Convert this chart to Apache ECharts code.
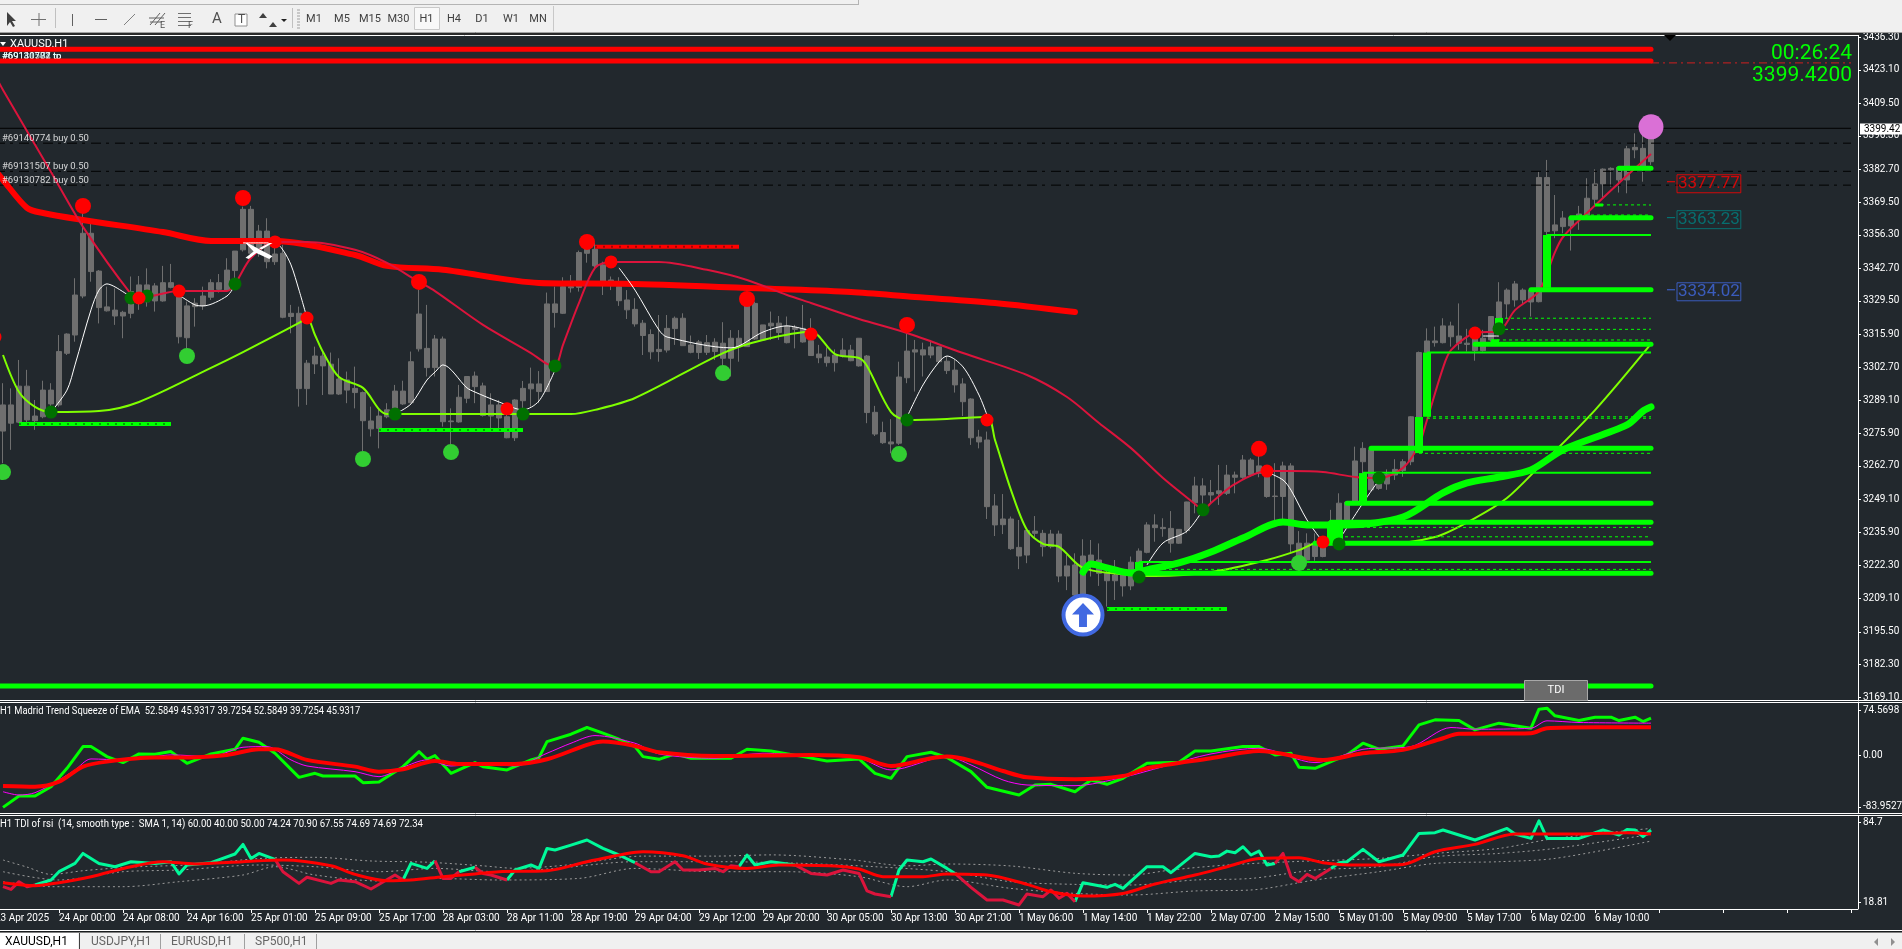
<!DOCTYPE html>
<html><head><meta charset="utf-8">
<style>html,body{margin:0;padding:0;background:#22282d;overflow:hidden}#c{width:1902px;height:949px}</style>
<script src="https://cdn.jsdelivr.net/npm/echarts@6/dist/echarts.min.js"></script>
</head><body><div id="c"></div>
<script>
// ---------- axis labels ----------
const tickLabels=["23 Apr 2025","24 Apr 00:00","24 Apr 08:00","24 Apr 16:00","25 Apr 01:00","25 Apr 09:00","25 Apr 17:00","28 Apr 03:00","28 Apr 11:00","28 Apr 19:00","29 Apr 04:00","29 Apr 12:00","29 Apr 20:00","30 Apr 05:00","30 Apr 13:00","30 Apr 21:00","1 May 06:00","1 May 14:00","1 May 22:00","2 May 07:00","2 May 15:00","5 May 01:00","5 May 09:00","5 May 17:00","6 May 02:00","6 May 10:00"];
const priceTicks=[3436.3,3423.1,3409.5,3396.3,3382.7,3369.5,3356.3,3342.7,3329.5,3315.9,3302.7,3289.1,3275.9,3262.7,3249.1,3235.9,3222.3,3209.1,3195.5,3182.3,3169.1];
const madridTicks=[74.5698,0,-83.9527];
const tdiTicks=[84.7,18.81];
// ---------- candles: [body edge, body edge, low, high], bar 0 is the off-screen leftmost bar ----------
const candles=[[3296,3290,3286,3298],
[3287.4,3276.8,3263.8,3296.2],[3287.4,3280,3269.2,3294.1],[3295,3280.4,3280,3305.6],[3295,3281.3,3279.3,3301.6],[3282.9,3281,3277.3,3289.4],[3293.4,3282.6,3282,3297.2],[3293.4,3287.8,3286,3296.2],[3309,3287.4,3286.7,3315.7],[3316.1,3308.3,3307.6,3316.4],[3331.9,3315.7,3313,3338.7],
[3356.9,3331.5,3330.6,3365],[3356.9,3341.4,3337.3,3361.6],[3341.6,3326.8,3320.4,3342],[3327.1,3325.5,3325.2,3335.3],[3325.8,3323.4,3319.8,3334.6],[3324.9,3323.4,3314.4,3325.5],[3333.3,3324.5,3322.5,3339.4],[3336,3328.6,3325.9,3339.6],[3336,3329.2,3327.2,3342.7],[3335.6,3329.5,3325.2,3336.7],
[3336.9,3329.5,3329.2,3343.7],[3336.9,3335,3334.6,3344.5],[3331.9,3315,3312.3,3334],[3327.5,3314.6,3310.3,3329.2],[3328.6,3327.2,3319.1,3330.6],[3331.5,3327.5,3325.9,3335.3],[3336.9,3331,3329.9,3338.3],[3336.9,3334.2,3332.9,3340.4],[3342,3333.9,3333.9,3346.8],[3349.7,3341.8,3338.7,3349.7],
[3366.6,3350.2,3349.5,3367.7],[3366.6,3348.8,3347.7,3368],[3357.8,3350.8,3347.4,3360.3],[3357.8,3345.4,3342.7,3363],[3348.5,3345.4,3344.1,3355.5],[3348.8,3322.9,3322.5,3352.2],[3324.5,3323.2,3316.4,3327.9],[3324.5,3294,3286.7,3327.2],[3304.3,3294,3287.4,3305.6],[3307.2,3304,3299.9,3311],
[3307.2,3303.2,3291.4,3309],[3303.9,3291.8,3291.8,3308.6],[3297.9,3291.8,3291.4,3306.3],[3297.5,3293.4,3288.1,3300.9],[3294.1,3292.4,3286,3302.9],[3292.4,3281,3268.7,3292.8],[3280.9,3277.7,3274.6,3286.7],[3282.9,3277.9,3269.8,3285.4],[3285.4,3282.6,3282,3288.1],[3293,3285.4,3282.6,3295.5],
[3293,3287.8,3287.4,3297.2],[3304.9,3288.3,3288.1,3309],[3324.2,3310.1,3309,3334],[3310.3,3302.5,3298.9,3327.9],[3314.1,3302.5,3298.9,3315.7],[3314.1,3280.6,3278.6,3315.1],[3280.9,3280.6,3271.2,3286],[3290.5,3280.5,3280.2,3295.5],[3298.9,3290.1,3288.1,3299.1],[3299.1,3294.8,3288.1,3300.9],
[3295.1,3283.1,3282.7,3296.4],[3287.4,3282.9,3277.9,3292.1],[3287.4,3282.1,3277.2,3289.4],[3282.6,3274.1,3273.9,3286.7],[3289.4,3274.1,3272.8,3289.7],[3294.1,3289.1,3285.4,3297.1],[3295.9,3293.9,3286.7,3302.5],[3295.9,3292.8,3288.1,3301.1],[3328.3,3292.8,3292.8,3332.9],[3328.3,3324.8,3318.7,3335.3],
[3335.3,3324.5,3324.2,3339.1],[3335.3,3334.8,3332.9,3340],[3349.1,3335,3333.3,3349.9],[3350.4,3348.8,3345,3355.6],[3350.4,3343.7,3342,3352.9],[3344.1,3337.3,3331.9,3345.4],[3338,3337.6,3333.9,3339.4],[3335.3,3329.6,3327.5,3339.1],[3329.9,3325.9,3322.2,3333.9],[3326.1,3320.2,3319.1,3330.6],
[3320.5,3315.5,3307.6,3321.8],[3315.9,3308.9,3305.9,3318],[3309.9,3309,3304.9,3323.8],[3318.4,3309.6,3308.6,3323.8],[3322.5,3318.3,3311.7,3323.2],[3322.5,3311.4,3311.4,3324.5],[3311.7,3308.7,3308.3,3315.5],[3312.9,3308.6,3306,3313.7],[3312.6,3308.7,3307.6,3315.7],[3312.8,3309,3305.6,3314.4],
[3312.4,3306.3,3300.9,3320.9],[3314.4,3306.3,3298.9,3317.7],[3314.4,3311,3304.9,3317.7],[3327.9,3311,3311,3331.2],[3328.5,3314.1,3313.7,3329.2],[3319.8,3313.7,3313.4,3319.8],[3320.5,3319.4,3313.7,3325.2],[3320.5,3316.7,3313.7,3323.4],[3319.4,3312.6,3312.3,3323.2],[3318.8,3318,3310.3,3319.8],
[3318.4,3312.9,3312.6,3327.9],[3313.4,3307.4,3307.4,3322.5],[3308,3306.5,3304.3,3311.7],[3306.8,3304.5,3302.9,3310.7],[3307.6,3304.5,3300.9,3309.9],[3309.6,3307,3306.6,3314.4],[3309.6,3305.3,3305.1,3311.7],[3314.4,3303.2,3302.9,3314.4],[3307.2,3284.3,3280,3307.6],[3284.4,3275.6,3274.8,3287],
[3276.2,3272.1,3271.6,3280.6],[3272.4,3271.6,3267.8,3281.6],[3298.7,3271.9,3271.2,3304.9],[3309.2,3298.4,3296.2,3316.1],[3309.7,3308.8,3292.8,3313.7],[3309.7,3307.6,3298.9,3312.6],[3310.9,3307.6,3306.3,3313.7],[3310.9,3304.9,3304.5,3311],[3305.1,3301.3,3299.9,3307],[3301.5,3295.5,3292.4,3305.6],
[3295.9,3288.7,3282.9,3298.2],[3289.8,3274.1,3271.2,3290.1],[3274.4,3272.4,3269.8,3277.3],[3273.2,3246.2,3241.2,3276.6],[3246.5,3238.8,3234.3,3251.3],[3241.2,3238.9,3235.1,3251.3],[3241.2,3229.2,3228.7,3242.2],[3229.7,3226.2,3220.9,3240.8],[3236.5,3226.6,3223.3,3237.4],[3236.3,3235.4,3233.4,3242.4],
[3235.4,3230,3226,3236.8],[3235.1,3230,3229.3,3236.8],[3235.1,3218.1,3215.6,3236.5],[3222.2,3218.1,3212.4,3226.6],[3222.6,3210.4,3209.8,3227.3],[3226.2,3210.4,3209.8,3233],[3226.6,3223.9,3217.9,3232.7],[3224.6,3219.2,3214.1,3231.3],[3219.2,3216.2,3205.7,3220.6],[3218.5,3216.2,3208.4,3224.6],
[3218.5,3214.1,3209.8,3220.6],[3223.7,3214.1,3212.4,3226],[3228.2,3223.2,3222.6,3229.3],[3238.8,3227.7,3227.3,3239.9],[3238.8,3237.7,3232,3243.1],[3237.8,3237.3,3234,3241.5],[3237.4,3231.4,3227.6,3244.4],[3237,3231.4,3231.1,3237],[3248.1,3236.5,3235.4,3248.2],[3254.6,3247.8,3243.5,3258.3],
[3254.6,3250.9,3246.2,3257.7],[3251.9,3250.9,3247.6,3257],[3252.6,3251.5,3246.9,3263.1],[3259,3251.6,3250.9,3263.1],[3259,3258.1,3251.6,3260.4],[3265.1,3258.1,3257.5,3267.1],[3265.1,3259,3258.3,3265.8],[3262.7,3259.7,3258.1,3267.8],[3259.4,3250.3,3249.8,3262.4],[3250.5,3250.3,3239.5,3263.8],
[3262.7,3250.3,3240.8,3264.4],[3262.7,3231.1,3227.3,3263.8],[3231.4,3224.6,3221,3236.3],[3231.4,3224.6,3224.3,3235.4],[3231.4,3226,3224.3,3235.4],[3232,3226,3225.7,3234],[3240.1,3232,3231.3,3244.9],[3247.6,3234,3233.4,3251.6],[3248,3240.8,3239.5,3248.2],[3264.7,3248.2,3247.8,3270.5],
[3269.8,3264.4,3258,3272.3],[3269.2,3253,3252.7,3270.5],[3255.6,3253.6,3253,3258.3],[3259.3,3255.4,3253,3261.3],[3261.3,3259,3257,3265.4],[3264.4,3260.8,3258.3,3265.4],[3282.6,3264.4,3263,3282.9],[3308.6,3282.4,3282,3309],[3313.3,3308.6,3308.3,3318.4],[3313.3,3312.6,3311,3319.1],
[3319.4,3312.6,3312.3,3322.5],[3319.4,3315,3311,3321.1],[3315.3,3312.4,3309.7,3328.5],[3312.4,3311.9,3309,3318.2],[3315,3309.4,3305.3,3317.8],[3314.4,3309.4,3309,3317.8],[3323.2,3313.7,3313,3323.4],[3329.1,3317.8,3317.1,3337.1],[3333.9,3328.3,3322.5,3334.6],[3336.4,3329.9,3327.2,3337.6],
[3333.9,3329.9,3328.3,3334.6],[3333.9,3329.1,3323.2,3333.9],[3379.5,3329.2,3328.9,3381.9],[3379.5,3357.6,3356.2,3386.6],[3360.3,3357.9,3354.9,3372.4],[3363.1,3359.6,3356.9,3365.9],[3363.2,3359.9,3349.9,3364],[3364.7,3363,3358.3,3368],[3371.1,3364.3,3363.4,3379.2],[3376.9,3370.7,3368.4,3382.8],
[3382.9,3376.9,3371.1,3383.2],[3383.2,3382.6,3375.8,3383.6],[3383.6,3378.5,3373.4,3383.9],[3391.1,3378.5,3373.1,3392.3],[3391.7,3390.7,3387.3,3397.4],[3391.3,3383.2,3377.8,3398.1],[3398.1,3385.9,3384.6,3399.4]];
// ---------- moving lines: [bar, price] ----------
const thickRedMA=[[0,3382.5],[1,3378.5],[4,3367.2],[6,3365.1],[11,3362.3],[21,3357.4],[27,3353.8],[35,3353.8],[45,3348.1],[49,3343.7],[56,3342.1],[68,3336.8],[80,3336.4],[97,3334.4],[107,3333.1],[115,3331.1],[125,3328.7],[135,3325]];
const crimsonLine=[[0,3421],[1,3414.95],[7,3381.7],[11,3359.5],[17,3332.3],[18,3330.7],[23,3333.5],[29,3333.5],[30,3336.4],[32,3346.9],[35,3353.4],[39,3353.4],[45,3350.2],[49,3344.9],[53,3337.2],[55,3333.5],[61,3319.8],[67,3308.4],[69,3304],[70,3303.2],[71,3311.7],[73,3328.7],[75,3342.9],[77,3345.3],[83,3345.3],[89,3342.1],[94,3338],[99,3331.9],[102,3328.7],[108,3322.2],[114,3316.5],[121,3308.4],[129,3299.5],[134,3290.6],[138,3280.1],[142,3269.9],[146,3257.8],[150,3247.3],[151,3244.9],[152,3247.7],[155,3255.4],[159,3260.6],[162,3260.6],[166,3260.2],[170,3258.2],[173,3257.8],[176,3261.9],[178,3271.2],[179,3281.3],[181,3302.4],[182,3309.6],[185,3316.5],[188,3317.3],[190,3325.8],[193,3333.5],[195,3349.3],[196,3355.4],[199,3365.1],[203,3377.3],[207,3389]];
const chartreuseLine=[[1,3307.6],[3,3292.6],[5,3286.6],[7,3284.5],[13,3284.9],[18,3288.6],[27,3302.4],[31,3308.8],[38,3320.6],[39,3322.6],[40,3315.7],[41,3308.8],[43,3298.7],[46,3294.3],[49,3283.7],[55,3283.7],[72,3283.7],[75,3285.4],[80,3290.2],[91,3308.4],[96,3313.7],[102,3317],[105,3308],[108,3306.4],[109,3303.2],[112,3284.5],[114,3281.3],[119,3281.7],[124,3282.5],[125,3273.2],[127,3252.9],[129,3236.7],[131,3231.1],[133,3229.9],[136,3221.4],[142,3218.5],[145,3218.1],[152,3219.7],[159,3224.6],[163,3228.6],[166,3232.3],[173,3231.1],[180,3233.9],[185,3241.6],[189,3249.7],[193,3262.3],[200,3285.3],[207,3312.1]];
const thickGreenMA=[[136,3219.7],[137,3223],[139,3221.4],[142,3219.3],[144,3220.6],[148,3223.4],[152,3227.8],[156,3233.5],[161,3240],[164,3238.8],[169,3238.8],[176,3242],[181,3251.8],[184,3255.8],[188,3258.2],[192,3261.1],[196,3269.2],[204,3279.3],[206,3284.9],[207,3286.6]];
const whiteSegments=[
[[7,3284.5],[9,3293.4],[10,3303.6],[12,3325.9],[13,3333.9],[14,3336.4],[15,3335.2],[17,3331.1]],
[[23,3331.9],[25,3327.9],[26,3327.5],[29,3331.5],[30,3336]],
[[31,3353],[35,3353],[36,3350.1],[37,3344.1],[38,3333.9],[39,3322.6]],
[[50,3283.7],[52,3287.8],[54,3297.5],[55,3300.7],[56,3303.6],[59,3294.3],[60,3292.6],[63,3288.6],[66,3285.4],[68,3289],[70,3301.5]],
[[78,3342.9],[80,3333.9],[83,3317.7],[84,3314.9],[92,3310.5],[96,3316.9],[99,3319.4],[102,3317.3]],
[[114,3282.5],[116,3295.5],[118,3304.8],[119,3307.2],[121,3302.8],[123,3291.4],[124,3283.3]],
[[144,3222.6],[146,3231.5],[149,3236.3],[151,3244.9]],
[[159,3260.2],[161,3257],[162,3252.9],[164,3240.8],[166,3231.9]],
[[168,3232.7],[171,3247.7],[173,3257]],
[[186,3315.3],[188,3315.3]]];
// ---------- markers: [bar, price] ----------
const redDotsBig=[[11,3368],[31,3371.2],[53,3337.2],[74,3353.4],[94,3330.3],[114,3319.8],[158,3269.6]];
const redDotsSmall=[[0,3314.9],[18,3330.7],[23,3333.5],[35,3353.4],[39,3322.6],[64,3285.8],[77,3345.3],[102,3316.1],[124,3281.3],[159,3260.6],[166,3231.9],[185,3316.5]];
const darkGreenDots=[[7,3284.5],[17,3330.7],[19,3331.5],[30,3336.4],[50,3283.7],[66,3283.7],[70,3303.2],[114,3281.3],[143,3217.7],[151,3244.9],[168,3231.1],[173,3257.8],[188,3318.2]];
const limeDots=[[1,3260.2],[24,3307.2],[46,3265.5],[57,3268.3],[91,3300.3],[113,3267.5],[163,3223.4]];
const orchidDot=[[207,3400]];
const arrowMark=[[136,3202.3]];
const scissorsMark=[[33,3349.7]];
// ---------- horizontal levels: [first bar, last bar, price] ----------
const redBands=[[0,207,3431.4],[0,207,3426.7]];
const redTail=[[207,232,3425.9]];
const thickLevels=[[0,207,3173.6],[192,207,3334.02],[197,207,3363.23],[203,207,3383.2],[185,207,3312],[172,207,3269.8],[169,207,3247.6],[167,207,3239.9],[165,207,3231.4],[143,207,3219.2]];
const solidLevels=[[194,207,3356.2],[179,207,3308.6],[171,207,3259.9],[143,207,3223.8]];
const dashedLevels=[[200,207,3368.4],[198,207,3364.3],[188,207,3322.5],[188,207,3318],[187,207,3313.7],[179,207,3282.6],[179,207,3282],[178,207,3267.8],[170,207,3237.8],[168,207,3234],[143,207,3220.8]];
const shortLevels=[[200,201,3368.4],[187,188,3313.4]];
const beadedGreen=[[3,22,3279.7],[48,66,3277.2],[139,154,3204.8]];
const beadedRed=[[75,93,3351.4]];
const orderLevels=[3393.4,3382,3376.4];
const currentPrice=3399.42;
// ---------- vertical green steps: [bar, upper price, lower price] ----------
const greenSteps=[[179,3308.6,3282.6],[178,3282.5,3267.9],[194,3356.2,3334.8],[188,3322.6,3317.7],[171,3259.8,3248.1],[167,3240,3231.5],[168,3240,3231.5],[143,3223.8,3218.5]];
// ---------- text labels ----------
const orderTexts=[["#69140774 buy 0.50",3395.4],["#69131507 buy 0.50",3384.0],["#69130782 buy 0.50",3378.3]];
const tpTexts=[["#69130782 tp",3428.3],["#69131507 tp",3428.3],["#69140774 tp",3428.3]];
const priceTags=[[3377.77,'#ff0000'],[3363.23,'#008080'],[3334.02,'#4169e1']];
// ---------- Madrid Trend Squeeze pane ----------
const madridGreen=[[1,-84.6],[3,-66.1],[5,-66.1],[7,-50.8],[9,-20.7],[11,14.8],[12,14.8],[14,-1.6],[16,-11.4],[18,2.8],[20,2.2],[22,6.6],[24,-12.5],[27,2.8],[30,10.4],[31,28.5],[33,21.9],[35,3.9],[38,-35.5],[40,-28.9],[41,-33.3],[45,-33.3],[46,-44.2],[48,-43.1],[51,-18],[53,6.6],[54,-5.9],[55,0],[57,-28.9],[60,-11.4],[61,-18],[64,-23.4],[67,-7],[68,-3.2],[69,23],[72,35],[74,46],[76,36.7],[78,26.8],[80,14.8],[81,-1.6],[83,-6],[85,2.8],[87,-4.3],[92,-4.3],[94,10.4],[97,7.7],[101,-1.6],[104,-8.7],[108,-5.4],[110,-28.9],[112,-37.1],[114,-1.6],[117,5.5],[119,-3],[122,-26.2],[124,-51.8],[128,-64.4],[130,-48],[132,-46.9],[135,-59],[137,-39.8],[139,-46.9],[141,-37.1],[144,-12.5],[148,-10.9],[150,7.7],[152,7.7],[156,14.8],[158,14.8],[160,1.2],[162,3.9],[163,-19.1],[165,-20.7],[169,1.2],[171,20.3],[173,10.4],[176,15.9],[178,50.3],[180,58.5],[183,57.4],[185,42.1],[188,53.1],[192,44.9],[193,76],[194,77.6],[195,65.1],[198,57.4],[200,62.9],[202,62.9],[203,57.4],[205,62.9],[206,55.8],[207,61.3]];
const madridMagenta=[[1,-59],[3,-64.4],[5,-60.6],[8,-39.8],[10,-23.4],[12,-5.4],[16,-7],[20,-1.6],[22,1.2],[27,-1.6],[31,13.7],[34,14.8],[37,-7],[39,-16.9],[45,-26.2],[48,-34.4],[51,-19.1],[54,-7],[57,-16.9],[61,-12.5],[65,-16.9],[69,3.9],[72,20.3],[75,32.8],[80,20.3],[83,2.8],[90,-4.3],[96,3.9],[102,0],[108,-4.3],[112,-23.4],[119,-1.6],[122,-15.2],[126,-39.8],[129,-48],[135,-49.1],[141,-35.5],[146,-18],[152,2.8],[158,12.1],[165,-11.4],[171,10.4],[177,14.8],[182,46],[185,43.2],[192,44.9],[194,56.9],[198,54.2],[207,53.1]];
const madridRed=[[1,-49.7],[5,-50.8],[8,-42.6],[11,-18],[14,-9.8],[20,-3.2],[23,-3.2],[29,1.2],[33,10.4],[35,10.4],[39,-7],[45,-18],[48,-26.2],[51,-22.3],[55,-8.7],[58,-13.6],[65,-13.6],[69,-6],[74,17.5],[76,23],[80,15.9],[83,5.5],[90,-0.5],[102,1.2],[108,-2.7],[112,-16.9],[117,-4.3],[119,-1.6],[122,-8.1],[126,-25.1],[129,-35.5],[135,-38.7],[141,-33.3],[144,-20.7],[152,-4.3],[158,7.7],[166,-7],[171,3.9],[176,9.4],[181,28.5],[183,35.6],[192,36.7],[194,44.9],[200,46.5],[207,46.5]];
// ---------- TDI pane ----------
const tdiGreenSegments=[
[[5,33.3],[7,37.4],[8,44.2],[10,51],[11,59.2],[13,51],[15,48.3],[17,52.4],[20,51],[22,52.4],[23,42.3],[24,49.7],[27,51.6],[30,58.7],[31,66.6],[32,55],[33,59.2],[35,54.3]],
[[51,37.4],[52,51],[54,46.9],[55,53.2]],
[[58,44.2],[60,47.8]],
[[64,37.4],[65,45.6],[67,49.7],[68,46.9],[69,63.3],[70,62],[72,66],[74,70.2],[76,63.3],[78,57.9],[80,51.6]],
[[93,48.3],[94,57.9],[95,49.7],[97,52.4],[100,49.7]],
[[112,23.7],[113,45.6],[114,53.8],[116,52.4],[117,54.6],[119,46.9],[120,42.8]],
[[135,19.6],[136,35.2],[139,31.4],[140,33.8],[141,30.5],[144,48.3],[146,48.3],[147,43.4],[150,59.2],[152,56.5],[153,57],[154,61.1],[155,59.8],[156,64.7],[157,57.9],[158,61.1],[159,49.7],[160,51]],
[[167,46.9],[168,51.6],[169,52.4],[171,62.5],[173,52.4],[176,57.9],[178,75.6],[180,76.2],[181,78.4],[185,70.2],[189,79.7],[190,75.1],[192,71.5],[193,86],[194,71.5],[198,71.5],[201,78.4],[203,74.3],[204,78.9],[205,78.4],[206,72.9],[207,78.4]]];
const tdiCrimsonSegments=[
[[1,31.9],[2,29.7],[3,36],[4,31.9],[5,33.3]],
[[35,54.3],[36,44.2],[38,34.6],[39,39.6],[42,34.6],[43,37.4],[45,36],[47,30],[50,41.5],[51,37.4]],
[[55,53.2],[56,38.7],[57,38.7],[58,44.2]],
[[60,47.8],[61,42.8],[62,41.5],[64,37.4]],
[[80,51.6],[82,44.2],[83,44.2],[85,52.4],[86,45.6],[88,45.6],[90,46.9],[91,44.2],[92,49.1],[93,48.3]],
[[100,49.7],[102,42.8],[104,41.5],[106,45.6],[108,42.8],[109,28.4],[110,25.9],[112,23.7]],
[[120,42.8],[122,31.4],[124,21],[126,21],[128,16.9],[129,25.9],[131,23.7],[132,29.2],[133,22.4],[134,26.4],[135,19.6]],
[[160,51],[161,59.2],[162,40.1],[163,36],[164,42],[165,38.7],[167,46.9]]];
const tdiSignal=[[1,35.2],[5,32.7],[8,35.2],[12,40.1],[17,48.3],[21,52.4],[25,50.5],[31,52.4],[36,53.8],[42,49.1],[45,42],[49,36.8],[52,37.4],[56,40.1],[60,42.3],[63,44.2],[69,45],[74,52.4],[79,59.2],[81,60.6],[86,57.3],[89,50.5],[94,46.9],[98,49.7],[105,48.9],[108,46.4],[111,40.1],[116,40.1],[119,42.3],[124,41.5],[129,33.8],[132,27.8],[136,24.3],[141,26.4],[145,34.1],[150,41.5],[154,48.3],[158,55.1],[163,55.7],[166,51.6],[170,49.7],[176,50.2],[180,60.6],[185,66.6],[190,75.1],[198,75.1],[204,76.2],[207,75.1]];
const tdiUpper=[[1,53.8],[4,48],[7,42],[11,45],[17,48],[25,50],[33,55],[40,56],[47,53],[54,52],[61,49],[65,47],[72,50],[81,57],[90,57],[97,58],[107,54],[114,49],[119,50.5],[127,48.9],[135,42.9],[142,41.5],[147,45.6],[154,49.7],[162,52.4],[173,55.1],[180,59.2],[188,63.3],[195,71.5],[207,79.7]];
const tdiMiddle=[[1,44.2],[8,37.4],[16,44.2],[23,45.6],[33,49.7],[40,48.3],[48,44.2],[55,46.9],[63,44.2],[70,46.9],[80,52.4],[91,52.4],[101,51],[110,48.3],[119,44.2],[127,36],[135,33.8],[142,33.3],[150,37.4],[157,38.7],[165,45.6],[173,48.3],[180,56.5],[188,59.2],[195,63.3],[207,74.8]];
const tdiLower=[[1,36],[7,31.9],[16,31.9],[23,36],[31,41.5],[35,48.3],[40,41.5],[48,36.6],[55,38.7],[63,37.4],[73,38.7],[80,46.9],[90,44.2],[99,44.2],[108,40.1],[114,31.9],[119,37.4],[127,30.5],[135,26.4],[142,25.1],[150,28.4],[157,29.2],[165,37.4],[173,44.2],[180,51],[188,52.4],[195,55.1],[207,69.3]];

const FONT='Roboto,sans-serif';
const BG='#22282d';
const barCount=233;
const categories=Array.from({length:barCount},(_,i)=>String(i));

function line(data,color,width,opt){opt=opt||{};
 return {type:'line',data:data,xAxisIndex:opt.pane||0,yAxisIndex:opt.pane||0,showSymbol:false,symbol:'none',silent:true,animation:false,z:opt.z||3,
  smooth:opt.smooth||false,
  lineStyle:{color:color,width:width,type:opt.type||'solid',cap:opt.cap||'butt',join:'round',opacity:1},emphasis:{disabled:true}};}
function level(rows,color,width,opt){return rows.map(r=>line([[r[0],r[2]],[r[1],r[2]]],color,width,opt));}
function dots(data,color,size,z,extra){return Object.assign({type:'scatter',data:data,xAxisIndex:0,yAxisIndex:0,symbol:'circle',symbolSize:size,silent:true,animation:false,z:z,itemStyle:{color:color,opacity:1}},extra||{});}
function textMarks(rows,z,color){return {type:'scatter',xAxisIndex:0,yAxisIndex:0,symbolSize:0,silent:true,animation:false,z:z,data:rows.map(r=>({value:[1,r[1]],name:r[0]})),
  label:{show:true,position:'right',distance:-1,formatter:p=>p.name,color:color,fontFamily:FONT,fontSize:9.5}};}

const series=[
 {type:'candlestick',data:candles,xAxisIndex:0,yAxisIndex:0,barWidth:5,silent:true,animation:false,z:2,
  itemStyle:{color:'#6f6f6f',color0:'#6f6f6f',borderColor:'#6f6f6f',borderColor0:'#6f6f6f',borderWidth:1}},
 textMarks(tpTexts,2,'#e8ffff'),
 ...level(redBands,'#ff0000',5,{z:4,cap:'round'}),
 ...level(redTail,'#d02020',1,{type:[8,4,2,4]}),
 line([[0,currentPrice],[232,currentPrice]],'#000000',1),
 ...orderLevels.map(p=>line([[0,p],[232,p]],'#000000',1,{type:[10,5,3,6]})),
 textMarks(orderTexts,5,'#ffffff'),
 line(thickRedMA,'#ff0000',6,{z:4,cap:'round',smooth:.3}),
 line(crimsonLine,'#dc143c',2,{z:5,smooth:.3}),
 line(chartreuseLine,'#7fff00',2,{z:5,smooth:.3}),
 ...whiteSegments.map(s=>line(s,'#ffffff',1,{z:5,smooth:.3})),
 ...level(thickLevels,'#00ff00',5,{z:6,cap:'round'}),
 ...level(solidLevels,'#00ff00',2,{z:6}),
 ...level(dashedLevels,'#00ff00',1,{z:6,type:[3,3]}),
 ...level(shortLevels,'#00ff00',3,{z:6}),
 ...level(beadedGreen,'#00ff00',4,{z:6}),
 ...level(beadedGreen,'#00a000',2,{z:6,type:[2,6]}),
 ...level(beadedRed,'#ff0000',4,{z:6}),
 ...level(beadedRed,'#a00000',2,{z:6,type:[2,6]}),
 ...greenSteps.map(s=>line([[s[0],s[1]],[s[0],s[2]]],'#00ff00',8,{z:6})),
 line(thickGreenMA,'#00ff00',7,{z:6,cap:'round',smooth:.3}),
 dots(darkGreenDots,'#007000',13,7),
 dots(limeDots,'#32cd32',16,7),
 dots(redDotsSmall,'#ff0000',13,8),
 dots(redDotsBig,'#ff0000',16,8),
 dots(orchidDot,'#da70d6',25,8),
 dots(arrowMark,'#ffffff',39,8,{itemStyle:{color:'#ffffff',borderColor:'#4169e1',borderWidth:4,opacity:1}}),
 dots(arrowMark,'#4169e1',[22,24],9,{symbol:'path://M50 0 L100 48 L68 48 L68 100 L32 100 L32 48 L0 48 Z',symbolKeepAspect:false}),
 dots(scissorsMark,'#ffffff',[27,16],9,{symbol:'path://M0 0 L8 0 L100 82 L88 100 L40 62 L12 100 L0 92 L30 52 Z M100 0 L60 40 L50 32 L88 0 Z',symbolKeepAspect:false}),
 {type:'scatter',xAxisIndex:0,yAxisIndex:0,symbolSize:0,silent:true,animation:false,z:9,clip:false,
  data:priceTags.map(r=>({value:[210,r[0]],label:{color:r[1],borderColor:r[1],borderWidth:1}})),
  label:{show:true,position:'right',distance:2,offset:[0,2],formatter:p=>p.value[1].toFixed(2),fontFamily:'Roboto',fontSize:17,padding:[1,1,0,1]}},
 ...priceTags.map(r=>line([[209,r[0]],[210,r[0]]],r[1],1)),
 line(madridGreen,'#00ff00',3,{pane:1,z:3}),
 line(madridMagenta,'#ff00ff',1,{pane:1,z:4,smooth:.3}),
 line(madridRed,'#ff0000',4,{pane:1,z:5,smooth:.3}),
 line(tdiUpper,'#9a9a9a',1,{pane:2,z:3,type:[2,3],smooth:.3}),
 line(tdiMiddle,'#9a9a9a',1,{pane:2,z:3,type:[2,3],smooth:.3}),
 line(tdiLower,'#9a9a9a',1,{pane:2,z:3,type:[2,3],smooth:.3}),
 ...tdiGreenSegments.map(s=>line(s,'#00fa9a',3,{pane:2,z:4})),
 ...tdiCrimsonSegments.map(s=>line(s,'#dc143c',3,{pane:2,z:4})),
 line(tdiSignal,'#ff0000',3,{pane:2,z:5,smooth:.3})
];

function yAxis(g,min,max,ticks,fmt){return {type:'value',gridIndex:g,position:'right',offset:3,min:min,max:max,scale:true,splitLine:{show:false},
  axisLine:{show:true,onZero:false,lineStyle:{color:'#ffffff',width:1}},
  axisTick:{show:true,length:3,lineStyle:{color:'#ffffff'},customValues:ticks},
  axisLabel:{customValues:ticks,formatter:fmt,color:'#ffffff',fontFamily:FONT,fontSize:10,margin:5,showMinLabel:true,showMaxLabel:true}};}
function xAxis(g,show){return {type:'category',gridIndex:g,data:categories,boundaryGap:true,
  axisLine:{show:show,onZero:false,lineStyle:{color:'#ffffff'}},
  axisTick:{show:show,alignWithLabel:true,length:4,interval:i=>i%8===0,lineStyle:{color:'#ffffff'}},
  axisLabel:{show:show,interval:i=>i%8===0,formatter:v=>tickLabels[Number(v)/8]||'',align:'left',color:'#ffffff',fontFamily:FONT,fontSize:10,margin:4,hideOverlap:false,showMinLabel:true}};}

// ---------- window chrome ----------
const g=[];
function R(x,y,w,h,fill,stroke,z){g.push({type:'rect',silent:true,z:z||20,shape:{x,y,width:w,height:h},style:{fill:fill,stroke:stroke||null,lineWidth:1}});}
function L(x1,y1,x2,y2,c,w,z){g.push({type:'line',silent:true,z:z||20,shape:{x1,y1,x2,y2},style:{stroke:c,lineWidth:w||1}});}
function T(x,y,s,c,size,font,al,z,sx){g.push({type:'text',silent:true,z:z||21,x:x,y:y,scaleX:sx||1,style:{text:s,fill:c,fontSize:size,fontFamily:font||FONT,align:al||'left',verticalAlign:'middle'}});}
function P(pts,fill,z){g.push({type:'polygon',silent:true,z:z||21,shape:{points:pts},style:{fill:fill}});}
R(0,0,1902,32,'#f0f0f0');
R(0,32,1860,3,'#2a2a2a');
L(0,32.5,1902,32.5,'#a0a0a0',1);
L(0,4.5,858,4.5,'#b4b4b4',1);L(858.5,0,858.5,5,'#b4b4b4',1);
L(0,35.5,1858,35.5,'#ffffff',1);
L(0,700.5,1902,700.5,'#ffffff',1);L(0,702.5,1902,702.5,'#ffffff',1);
L(0,813.5,1902,813.5,'#ffffff',1);L(0,815.5,1902,815.5,'#ffffff',1);
L(0,909.5,1858,909.5,'#ffffff',1);
L(0,930.5,1902,930.5,'#ffffff',1);
R(0,932,1902,17,'#f0f0f0');L(0,932,1902,932,'#101010',1);
// toolbar icons
P([[7,12],[7,26],[10,22],[13,27],[15,26],[12,21],[16,21]],'#404040');
L(39,13,39,26,'#707070');L(31,19.5,46,19.5,'#707070');L(55.5,8,55.5,28,'#c0c0c0');
L(72.5,14,72.5,26,'#606060');L(95,19.5,107,19.5,'#606060');L(124,25,135,14,'#808080');
L(150,25,160,13,'#606060');L(155,25,165,13,'#606060');L(149,18,164,18,'#606060');L(150,22,162,22,'#606060');T(160,25.5,'E','#505050',9);
for(let i=0;i<4;i++)L(178,13.5+i*4,191,13.5+i*4,'#707070');T(188,25.5,'F','#505050',9);
T(212,19.5,'A','#505050',15,'Roboto');
R(235,14,12,12,'#ffffff','#909090');T(238,20,'T','#505050',12,'Roboto');
P([[263,13],[267,18],[259,18]],'#404040');P([[273,22],[277,27],[269,27]],'#404040');P([[281,19],[287,19],[284,22]],'#202020');
for(let i=0;i<7;i++)L(297,10+i*3,300,10+i*3,'#a0a0a0');
L(292.5,8,292.5,28,'#c0c0c0');
R(414.5,7.5,25,22,'#f8f8f8','#c8c8c8');
[['M1',314],['M5',342],['M15',370],['M30',398.5],['H1',426.5],['H4',454],['D1',482],['W1',511],['MN',538]].forEach(a=>T(a[1],19.5,a[0],'#404040',11,FONT,'center'));
L(553.5,6,553.5,31,'#c8c8c8');
// top-left caption and right read-outs
P([[0,42],[6,42],[3,46]],'#ffffff');
T(10,44,'XAUUSD.H1','#ffffff',11);
T(1852,54,'00:26:24','#00ff00',21,'Roboto','right');
T(1852,76,'3399.4200','#00ff00',21,'Roboto','right');
P([[1664,35],[1676,35],[1670,41]],'#000000');
R(1860,123.5,42,11,'#ffffff');T(1864,129,'3399.42','#000000',10,FONT,'left',22);
R(1524.5,680.5,63,20,'#6b6b6b','#a8a8a8',20);T(1556,690.5,'TDI','#ffffff',11,FONT,'center');
T(0,711.5,'H1 Madrid Trend Squeeze of EMA  52.5849 45.9317 39.7254 52.5849 39.7254 45.9317','#ffffff',11,FONT,'left',21,.85);
T(0,824,'H1 TDI of rsi  (14, smooth type :  SMA 1, 14) 60.00 40.00 50.00 74.24 70.90 67.55 74.69 74.69 72.34','#ffffff',11,FONT,'left',21,.87);
// tabs
R(0,933,78,16,'#ffffff');L(79.5,933,79.5,949,'#404040');
[['XAUUSD,H1',5,'#000000'],['USDJPY,H1',91,'#666666'],['EURUSD,H1',171,'#666666'],['SP500,H1',255,'#666666']].forEach(a=>T(a[1],942,a[0],a[2],12));
[160,244,316].forEach(x=>L(x+.5,934,x+.5,949,'#a0a0a0'));
P([[1878,938],[1878,946],[1874,942]],'#909090');P([[1891,938],[1891,946],[1895,942]],'#909090');

const chart=echarts.init(document.getElementById('c'),null,{renderer:'canvas'});
chart.setOption({
 backgroundColor:BG,animation:false,tooltip:{show:false},legend:{show:false},
 grid:[{left:-9,width:1864,top:35,height:665,outerBoundsMode:'none'},{left:-9,width:1864,top:702,height:111,outerBoundsMode:'none'},{left:-9,width:1864,top:816,height:93,outerBoundsMode:'none'}],
 xAxis:[xAxis(0,false),xAxis(1,false),xAxis(2,true)],
 yAxis:[
  yAxis(0,3167.9,3437.2,priceTicks,v=>v.toFixed(2)),
  yAxis(1,-93.8,87.7,madridTicks,v=>v===0?'0.00':v.toFixed(4)),
  yAxis(2,13.6,89.9,tdiTicks,v=>String(v))],
 series:series,graphic:g
});
</script></body></html>
